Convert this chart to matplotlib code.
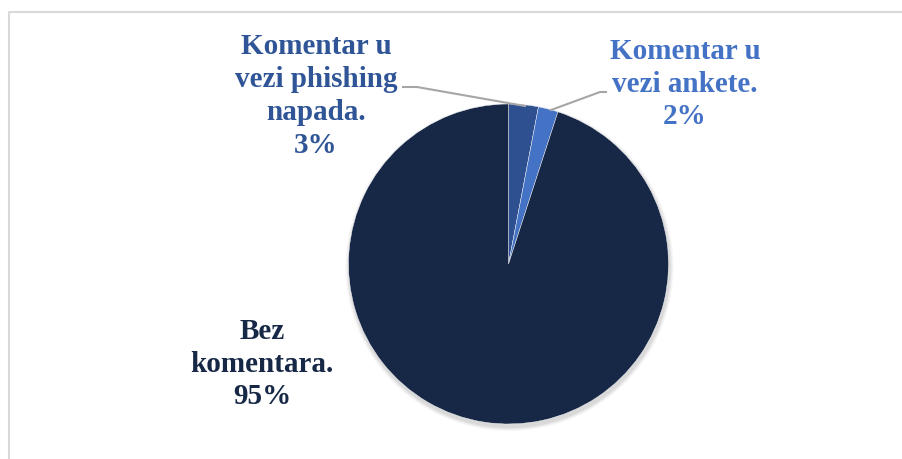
import matplotlib
matplotlib.use("Agg")
import matplotlib.pyplot as plt
from matplotlib.patches import Circle

categories = ["Komentar u vezi phishing napada.", "Komentar u vezi ankete.", "Bez komentara."]
values = [3, 2, 95]
pct_labels = ["3%", "2%", "95%"]
label_text = ["Komentar u\nvezi phishing\nnapada.", "Komentar u\nvezi ankete.", "Bez\nkomentara."]
slice_colors = ["#2E5090", "#4472C4", "#172846"]
text_colors = ["#2F5597", "#4472C4", "#172846"]

W, H = 903, 459
fig = plt.figure(figsize=(W / 100, H / 100), dpi=100)
ax = fig.add_axes([0, 0, 1, 1])

def Y(y):
    return H - y

cx, cy, r = 508.5, 264, 160

# soft shadow
for i, a in enumerate([0.03, 0.03, 0.04, 0.05]):
    ax.add_patch(Circle((cx + 1, Y(cy + 3)), r + 4 - i, color="black", alpha=a, lw=0, zorder=1))

wedges, _ = ax.pie(values, colors=slice_colors, startangle=90, counterclock=False,
                   center=(cx, Y(cy)), radius=r, frame=True,
                   wedgeprops=dict(linewidth=0.3, edgecolor="#FFFFFF"))
for w in wedges:
    w.set_zorder(2)
ax.set_xlim(0, W)
ax.set_ylim(0, H)
ax.set_aspect("equal", adjustable="datalim")
ax.set_xlim(0, W)
ax.set_ylim(0, H)
ax.axis("off")

# chart border (only left and top edges are visible)
ax.plot([9, 9, W + 20], [Y(H + 20), Y(12), Y(12)], color="#D9D9D9", lw=1.5, zorder=0)

font = dict(family="Liberation Serif", fontweight="bold", fontsize=21,
            ha="center", va="center", linespacing=1.27)

pos = [(316, 96), (685, 84), (262, 364)]
for lbl, p, (x, y), c in zip(label_text, pct_labels, pos, text_colors):
    ax.text(x, Y(y), lbl + "\n" + p, color=c, zorder=5, **font)

# leader lines
lc = "#A6A6A6"
ax.plot([403, 417, 525], [Y(87), Y(87), Y(106)], color=lc, lw=1.5, zorder=3)
ax.plot([551, 600, 606], [Y(110), Y(92), Y(92)], color=lc, lw=1.5, zorder=3)

fig.savefig("out.png", dpi=100, facecolor="white")
